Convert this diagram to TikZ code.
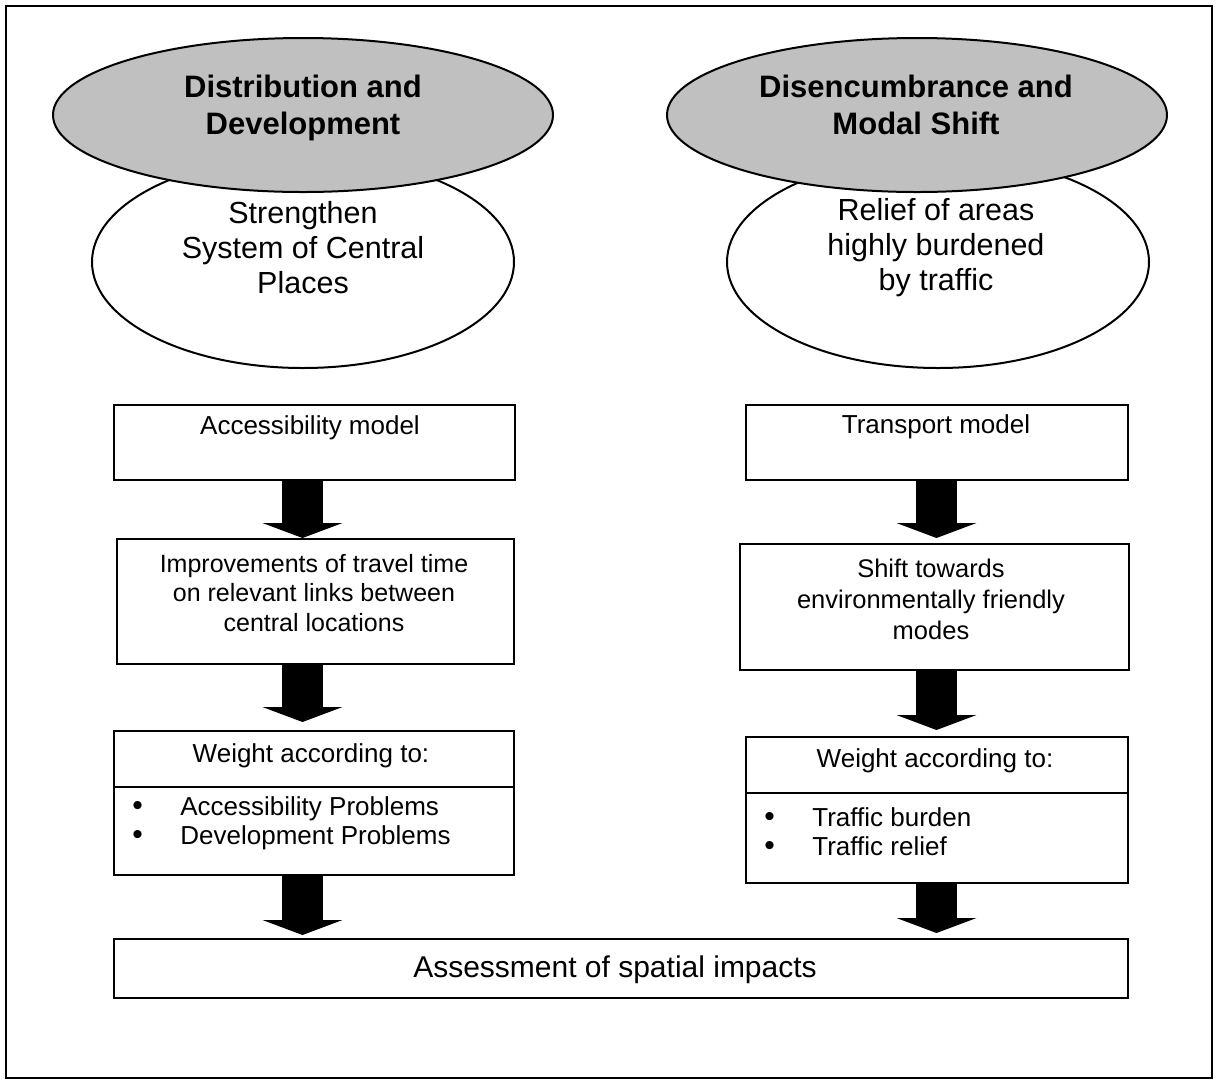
\documentclass[tikz,border=0pt]{standalone}
\usepackage{fontspec}
\setmainfont{Liberation Sans}
\usetikzlibrary{shapes.geometric, arrows.meta}
\definecolor{ovalgray}{RGB}{192,192,192}
\newcommand{\itembul}{\makebox[24pt][l]{\fontsize{15}{14.5}\selectfont\textbullet}}

\begin{document}
\begin{tikzpicture}[x=0.5pt, y=-0.5pt,
    headoval/.style={ellipse, draw=black, fill=ovalgray, line width=1pt, inner sep=0pt, minimum width=250pt, minimum height=77pt},
    aimoval/.style={ellipse, draw=black, fill=white, line width=1pt, inner sep=0pt, minimum width=211pt, minimum height=106pt},
    headtext/.style={align=center, inner sep=0pt, font=\fontsize{15.5}{18.5}\selectfont\bfseries},
    aimtext/.style={align=center, inner sep=0pt, font=\fontsize{15.25}{17.5}\selectfont},
    stepbox/.style={draw=black, line width=1pt, inner sep=0pt, anchor=north west},
    steptext/.style={align=center, inner sep=0pt, font=\fontsize{13}{15}\selectfont},
    itemlist/.style={align=left, anchor=west, inner sep=0pt, font=\fontsize{13}{14.5}\selectfont},
    bigarrow/.style={line width=20.5pt, -{Triangle[width=40pt, length=7.5pt, line width=0pt]}},
    ]
    \useasboundingbox (0,0) rectangle (1216,1083);
    \fill[white] (0,0) rectangle (1216,1083);
    \draw[line width=1pt] (6,6) rectangle (1212,1078);

    %Ovals
    \node[aimoval] (placesoval) at (303,262) {};
    \node[aimoval] (reliefoval) at (938,262) {};
    \node[headoval] (distoval) at (303,115) {};
    \node[headoval] (modaloval) at (917,115) {};
    \node[headtext] (disttext) at (303,108) {Distribution and\\Development};
    \node[headtext] (modaltext) at (916,105) {Disencumbrance and\\Modal Shift};
    \node[aimtext] (placestext) at (303,248) {Strengthen\\System of Central\\Places};
    \node[aimtext] (relieftext) at (936,248) {Relief of areas\\highly burdened\\by traffic};

    %Boxes left
    \node[stepbox, minimum width=200.5pt, minimum height=37.5pt] (acc) at (113,404) {};
    \node[stepbox, minimum width=198.5pt, minimum height=62.5pt] (impr) at (116,538) {};
    \node[stepbox, minimum width=200pt, minimum height=28pt] (weightl) at (113,730) {};
    \node[stepbox, minimum width=200pt, minimum height=44pt] (itemsl) at (113,786) {};
    %Boxes right
    \node[stepbox, minimum width=191pt, minimum height=37.5pt] (trans) at (745,404) {};
    \node[stepbox, minimum width=194.5pt, minimum height=63pt] (shift) at (739,543) {};
    \node[stepbox, minimum width=191pt, minimum height=28pt] (weightr) at (745,736) {};
    \node[stepbox, minimum width=191pt, minimum height=45pt] (itemsr) at (745,792) {};
    %Bottom box
    \node[stepbox, minimum width=507pt, minimum height=29.5pt] (assess) at (113,938) {};

    %Texts
    \node[steptext] (acctext) at (310,428) {Accessibility model};
    \node[steptext] (transtext) at (936,427) {Transport model};
    \node[steptext, font=\fontsize{12.5}{14.75}\selectfont] (imprtext) at (314,593) {Improvements of travel time\\on relevant links between\\central locations};
    \node[steptext, font=\fontsize{12.75}{15.5}\selectfont] (shifttext) at (931,599) {Shift towards\\environmentally friendly\\modes};
    \node[steptext] (weightltext) at (311,756) {Weight according to:};
    \node[steptext] (weightrtext) at (935,761) {Weight according to:};
    \node[itemlist] (itemsltext) at (132,823) {\itembul Accessibility Problems\\\itembul Development Problems};
    \node[itemlist] (itemsrtext) at (764,832) {\itembul Traffic burden\\\itembul Traffic relief};
    \node[steptext, font=\fontsize{15}{18}\selectfont] (assesstext) at (615,970) {Assessment of spatial impacts};

    %Arrows
    \coordinate (coll) at (302.5,0);
    \coordinate (colr) at (936.5,0);
    \draw[bigarrow] (acc.south -| coll) -- (impr.north -| coll);
    \draw[bigarrow] (impr.south -| coll) -- ([yshift=4pt]weightl.north -| coll);
    \draw[bigarrow] (itemsl.south -| coll) -- ([yshift=1.5pt]assess.north -| coll);
    \draw[bigarrow] (trans.south -| colr) -- ([yshift=2.5pt]shift.north -| colr);
    \draw[bigarrow] (shift.south -| colr) -- ([yshift=3pt]weightr.north -| colr);
    \draw[bigarrow] (itemsr.south -| colr) -- ([yshift=2.5pt]assess.north -| colr);
\end{tikzpicture}
\end{document}
